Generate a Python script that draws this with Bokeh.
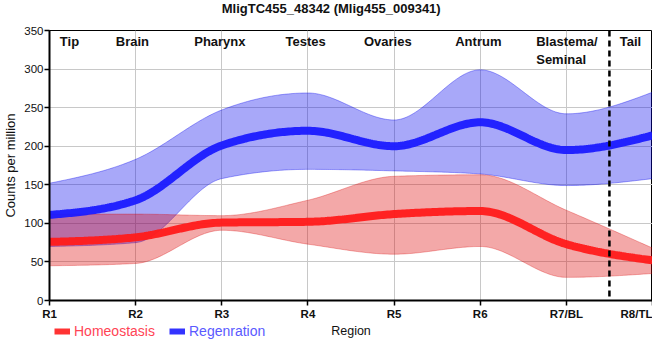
import numpy as np
from bokeh.plotting import figure
from bokeh.layouts import column
from bokeh.models import Range1d, FixedTicker, Span, Legend, LegendItem
from bokeh.core.properties import value
from bokeh.embed import file_html
from bokeh.resources import INLINE

# ---- data ----
regions = ["R1", "R2", "R3", "R4", "R5", "R6", "R7/BL", "R8/TL"]
positions = [0, 1, 2, 3, 4, 5, 6, 7]
region_names = ["Tip", "Brain", "Pharynx", "Testes", "Ovaries", "Antrum", "Blastema/\nSeminal", "Tail"]
name_x = [0.12, 0.77, 1.68, 2.74, 3.65, 4.71, 5.65, 6.62]

homeo_mean = [76, 82, 101, 102, 112, 116, 73, 52]
homeo_upper = [112, 112, 110, 130, 161, 163, 117, 68]
homeo_lower = [45, 48, 91, 73, 60, 70, 30, 35]

regen_mean = [111, 130, 201, 220, 200, 231, 195, 214]
regen_upper = [152, 183, 247, 269, 234, 299, 242, 270]
regen_lower = [70, 75, 158, 170, 168, 164, 149, 158]

series_labels = ["Homeostasis", "Regenration"]
title_text = "MligTC455_48342 (Mlig455_009341)"
x_label = "Region"
y_label = "Counts per million"

y_ticks = [0, 50, 100, 150, 200, 250, 300, 350]
divider_at = 6.5

FONT = "Liberation Sans"
W = 652


def monotone_curve(xs, ys, n=40):
    """Monotone cubic (d3 curveMonotoneX style) rendering of the series."""
    x = np.asarray(xs, float)
    y = np.asarray(ys, float)
    h = np.diff(x)
    s = np.diff(y) / h
    m = np.zeros_like(y)
    for i in range(1, len(y) - 1):
        p_ = (s[i - 1] * h[i] + s[i] * h[i - 1]) / (h[i - 1] + h[i])
        m[i] = (np.sign(s[i - 1]) + np.sign(s[i])) * min(abs(s[i - 1]), abs(s[i]), 0.5 * abs(p_))
    m[0] = (3 * s[0] - m[1]) / 2
    m[-1] = (3 * s[-1] - m[-2]) / 2
    out_x, out_y = [], []
    for i in range(len(x) - 1):
        t = np.linspace(0, 1, n, endpoint=(i == len(x) - 2))
        h00 = 2 * t**3 - 3 * t**2 + 1
        h10 = t**3 - 2 * t**2 + t
        h01 = -2 * t**3 + 3 * t**2
        h11 = t**3 - t**2
        out_x.append(x[i] + t * h[i])
        out_y.append(h00 * y[i] + h10 * h[i] * m[i] + h01 * y[i + 1] + h11 * h[i] * m[i + 1])
    return np.concatenate(out_x), np.concatenate(out_y)


def bare(fig):
    fig.axis.visible = False
    fig.grid.visible = False
    fig.outline_line_color = None
    fig.background_fill_color = "white"
    fig.border_fill_color = "white"
    fig.min_border = 0


# ---- main chart ----
p = figure(width=W, height=299, output_backend="svg", toolbar_location=None,
           x_range=Range1d(0, 7), y_range=Range1d(0, 350),
           min_border_left=42, min_border_right=0, min_border_top=7, min_border_bottom=22)

p.background_fill_color = "white"
p.border_fill_color = "white"
p.outline_line_color = "black"
p.outline_line_width = 1

p.xgrid.grid_line_color = "#c8c8c8"
p.ygrid.grid_line_color = "#c8c8c8"

p.xaxis.ticker = FixedTicker(ticks=positions)
p.xaxis.major_label_overrides = {pos: lab for pos, lab in zip(positions, regions)}
p.yaxis.ticker = FixedTicker(ticks=y_ticks)
p.xaxis.minor_tick_line_color = None
p.yaxis.minor_tick_line_color = None
for ax in (p.xaxis[0], p.yaxis[0]):
    ax.axis_line_color = "black"
    ax.axis_line_width = 2
    ax.major_tick_line_color = "black"
    ax.major_tick_line_width = 1.5
    ax.major_tick_in = 0
    ax.major_tick_out = 5
    ax.major_label_text_font = FONT
    ax.major_label_text_color = "#111111"
    ax.axis_label_text_font = FONT
    ax.axis_label_text_font_style = "normal"
    ax.axis_label_text_color = "#111111"

p.xaxis.major_label_text_font_size = "11.5px"
p.xaxis.major_label_text_font_style = "bold"
p.xaxis.major_label_standoff = 2

p.yaxis.major_label_text_font_size = "11.5px"
p.yaxis.major_label_standoff = 1
p.yaxis.axis_label = y_label
p.yaxis.axis_label_text_font_size = "13px"
p.yaxis.axis_label_standoff = 3

BLUE_BAND = "#0000ee"
RED_BAND = "#dc0000"
bx, bl = monotone_curve(positions, regen_lower)
_, bu = monotone_curve(positions, regen_upper)
p.varea(x=bx, y1=bl, y2=bu, fill_color=BLUE_BAND, fill_alpha=0.34)
p.line(bx, bl, line_color=BLUE_BAND, line_alpha=0.35, line_width=1)
p.line(bx, bu, line_color=BLUE_BAND, line_alpha=0.35, line_width=1)

rx, rl = monotone_curve(positions, homeo_lower)
_, ru = monotone_curve(positions, homeo_upper)
p.varea(x=rx, y1=rl, y2=ru, fill_color=RED_BAND, fill_alpha=0.34)
p.line(rx, rl, line_color=RED_BAND, line_alpha=0.3, line_width=1)
p.line(rx, ru, line_color=RED_BAND, line_alpha=0.3, line_width=1)

mx, mb = monotone_curve(positions, regen_mean)
p.line(mx, mb, line_color="#1a1aff", line_width=8, line_alpha=0.95)
mx2, mr = monotone_curve(positions, homeo_mean)
p.line(mx2, mr, line_color="#ff1a1a", line_width=8, line_alpha=0.95)

p.add_layout(Span(location=divider_at, dimension="height", line_color="black",
                  line_width=2.5, line_dash="6 4"))

p.text(x=name_x, y=[350] * len(name_x), text=region_names,
       text_font=value(FONT), text_font_size="13px", text_font_style="bold",
       text_color="#111111", text_align="left", text_baseline="top",
       y_offset=3, text_line_height=1.2)

# ---- title strip (frame aligned with the chart) ----
top_h = 23
pt = figure(width=W, height=top_h, output_backend="svg", toolbar_location=None,
            x_range=p.x_range, y_range=Range1d(0, top_h))
bare(pt)
pt.text(x=[3.27], y=[top_h - 8], text=[title_text], text_font=value(FONT),
        text_font_size="13px", text_font_style="bold", text_color="#111111",
        text_align="center", text_baseline="alphabetic")

# ---- legend / x-label strip ----
leg_h = 20
pl = figure(width=W, height=leg_h, output_backend="svg", toolbar_location=None,
            x_range=p.x_range, y_range=Range1d(0, 350))
bare(pl)
# legend swatches: the mean series drawn far outside this strip's visible range
r_h = pl.line(x=positions, y=[v + 1000 for v in homeo_mean], line_color="#ff3333", line_width=6)
r_r = pl.line(x=positions, y=[v + 1000 for v in regen_mean], line_color="#3333ff", line_width=6)
for rend, lab, col, lx in [(r_h, series_labels[0], "#ff4455", 5),
                           (r_r, series_labels[1], "#5a5aff", 120)]:
    leg = Legend(items=[LegendItem(label=lab, renderers=[rend])], location=(lx, 3),
                 orientation="horizontal", glyph_width=16, glyph_height=16, label_height=16,
                 label_standoff=4, padding=0, margin=0, spacing=0,
                 label_text_font=FONT, label_text_font_size="14px", label_text_color=col,
                 background_fill_alpha=0, border_line_alpha=0)
    pl.add_layout(leg)
pl.text(x=[3.5], y=[350 * (leg_h - 8.5) / leg_h], text=[x_label], text_font=value(FONT),
        text_font_size="12.5px", text_color="#111111",
        text_align="center", text_baseline="middle")

layout = column(pt, p, pl, spacing=0)
open("out.html", "w").write(file_html(layout, INLINE))
